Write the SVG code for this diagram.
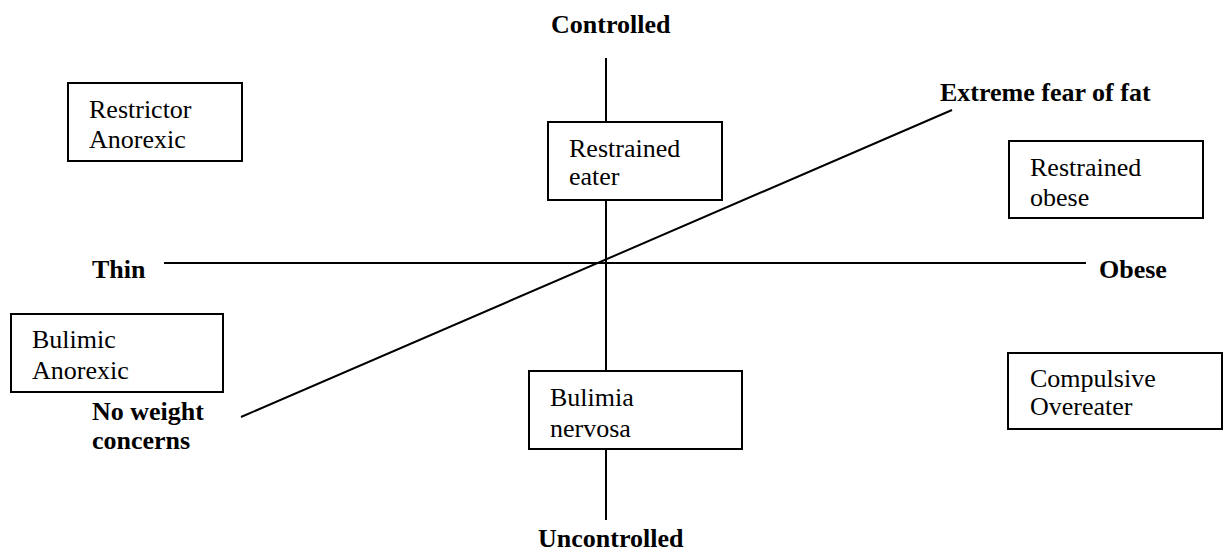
<svg xmlns="http://www.w3.org/2000/svg" width="1227" height="551" viewBox="0 0 1227 551">
<style>
.box{fill:#fff;stroke:#000;stroke-width:2}
.ln{stroke:#000;stroke-width:2;fill:none}
.t{font-family:"Liberation Serif",serif;font-size:26px;fill:#000}
.b{font-family:"Liberation Serif",serif;font-size:26px;font-weight:bold;fill:#000}
</style>
<rect width="1227" height="551" fill="#fff"/>
<g id="connectors">
<line class="ln" x1="606" y1="58" x2="606" y2="122"/>
<line class="ln" x1="606" y1="200" x2="606" y2="371"/>
<line class="ln" x1="606" y1="449" x2="606" y2="520"/>
<line class="ln" x1="164" y1="263" x2="1086" y2="263"/>
<line class="ln" x1="241" y1="417" x2="952" y2="110"/>
</g>
<g id="labels">
<text class="b" x="551" y="33">Controlled</text>
<text class="b" x="538" y="547">Uncontrolled</text>
<text class="b" x="92" y="278">Thin</text>
<text class="b" x="1099" y="278">Obese</text>
<text class="b" x="940" y="101">Extreme fear of fat</text>
<text class="b" x="92" y="420">No weight</text>
<text class="b" x="92" y="449">concerns</text>
</g>
<g id="restrictor-anorexic">
<rect class="box" x="68" y="83" width="174" height="78"/>
<text class="t" x="89" y="118">Restrictor</text>
<text class="t" x="89" y="148">Anorexic</text>
</g>
<g id="bulimic-anorexic">
<rect class="box" x="11" y="314" width="212" height="78"/>
<text class="t" x="32" y="348">Bulimic</text>
<text class="t" x="32" y="379">Anorexic</text>
</g>
<g id="restrained-eater">
<rect class="box" x="548" y="122" width="174" height="78"/>
<text class="t" x="569" y="157">Restrained</text>
<text class="t" x="569" y="185">eater</text>
</g>
<g id="bulimia-nervosa">
<rect class="box" x="529" y="371" width="213" height="78"/>
<text class="t" x="550" y="406">Bulimia</text>
<text class="t" x="550" y="437">nervosa</text>
</g>
<g id="restrained-obese">
<rect class="box" x="1009" y="141" width="194" height="77"/>
<text class="t" x="1030" y="176">Restrained</text>
<text class="t" x="1030" y="206">obese</text>
</g>
<g id="compulsive-overeater">
<rect class="box" x="1008" y="353" width="214" height="76"/>
<text class="t" x="1030" y="387">Compulsive</text>
<text class="t" x="1030" y="415">Overeater</text>
</g>
</svg>
